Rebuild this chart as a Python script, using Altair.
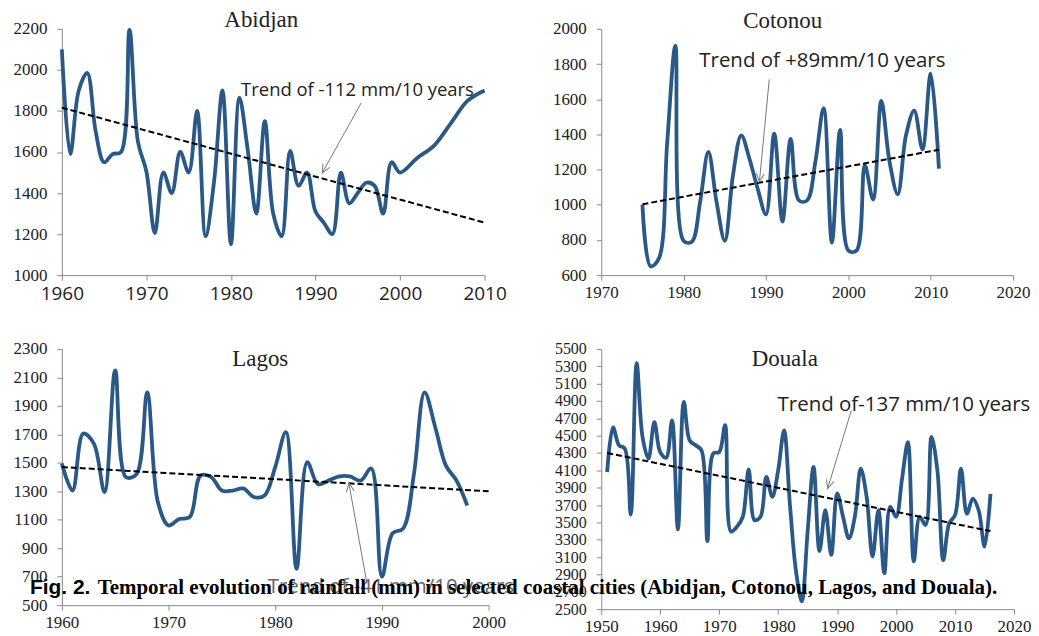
import altair as alt
import pandas as pd

# ---------------- data ----------------
abidjan_years = list(range(1960, 2001)) + [2002, 2004, 2006, 2008, 2010]
abidjan_rain = [2100, 1590, 1900, 1985, 1700, 1550, 1590, 1600, 2195, 1650,
                1505, 1205, 1500, 1400, 1600, 1500, 1800, 1190, 1455, 1900,
                1150, 1865, 1605, 1300, 1750, 1300, 1190, 1605, 1435, 1500,
                1310, 1255, 1200, 1500, 1350, 1400, 1450, 1435, 1300, 1550,
                1500, 1570, 1630, 1740, 1850, 1900]
abidjan_trend_years = [1960, 2010]
abidjan_trend = [1816, 1256]

cotonou_years = list(range(1975, 2012))
cotonou_rain = [1000, 650, 695, 1350, 1905, 795, 790, 1015, 1300, 1015,
                795, 1170, 1395, 1260, 1090, 945, 1405, 905, 1375, 1025,
                1025, 1245, 1550, 785, 1425, 740, 740, 1225, 1030, 1590,
                1245, 1060, 1395, 1535, 1315, 1745, 1205]
cotonou_trend_years = [1975, 2011]
cotonou_trend = [1003, 1313]

lagos_years = list(range(1960, 1999))
lagos_rain = [1495, 1305, 1705, 1635, 1295, 2150, 1400, 1420, 1995, 1225,
              1060, 1105, 1120, 1410, 1400, 1305, 1305, 1320, 1260, 1270,
              1470, 1715, 755, 1505, 1350, 1375, 1405, 1405, 1375, 1460,
              700, 1005, 1040, 1420, 1995, 1750, 1480, 1375, 1200]
lagos_trend_years = [1960, 2000]
lagos_trend = [1470, 1300]

douala_years = list(range(1951, 2017))
douala_rain = [4080, 4595, 4390, 4350, 3590, 5335, 4485, 4235, 4655, 4310,
               4245, 4675, 3420, 4890, 4445, 4390, 4330, 3285, 4295, 4310,
               4620, 3395, 3450, 3565, 4110, 3525, 3565, 4025, 3795, 4100,
               4560, 3700, 2950, 2590, 3400, 4140, 3170, 3640, 3125, 3835,
               3565, 3315, 3565, 4120, 3795, 3105, 3640, 2915, 3680, 3565,
               4000, 4425, 3050, 3565, 3470, 4485, 4100, 3065, 3490, 3585,
               4120, 3600, 3775, 3640, 3220, 3830]
douala_trend_years = [1951, 2016]
douala_trend = [4300, 3400]

titles = ["Abidjan", "Cotonou", "Lagos", "Douala"]
annotations = ["Trend of -112 mm/10 years", "Trend of +89mm/10 years",
               "Trend of -41 mm/10 years", "Trend of-137 mm/10 years"]
caption_head = "Fig. 2."
caption_body = ("Temporal evolution of rainfall (mm) in selected coastal cities "
                "(Abidjan, Cotonou, Lagos, and Douala).")

LINE = "#2A5887"
AXC = "#8a8a8a"
SERIF = "Liberation Serif"
SANS = "Open Sans"


def panel(years, rain, tyears, tvals, xdom, ydom, xstep, ystep, w, h,
          xfont, xsize, yfont, ysize, title, tpos, ann, apos, asize, acolor,
          arrow, angle, extra=()):
    X = alt.X("x:Q", title=None,
              scale=alt.Scale(domain=xdom, nice=False, zero=False),
              axis=alt.Axis(values=list(range(xdom[0], xdom[1] + 1, xstep)),
                            format="d", labelFont=xfont, labelFontSize=xsize,
                            labelFlush=False, labelOverlap=False,
                            labelPadding=4, labelColor="#222",
                            domainColor=AXC, tickColor=AXC, tickSize=5,
                            grid=False))
    Y = alt.Y("y:Q", title=None,
              scale=alt.Scale(domain=ydom, nice=False, zero=False),
              axis=alt.Axis(values=list(range(ydom[0], ydom[1] + 1, ystep)),
                            format="d", labelFont=yfont, labelFontSize=ysize,
                            labelFlush=False, labelOverlap=False,
                            labelPadding=10, labelColor="#222",
                            domainColor=AXC, tickColor=AXC, tickSize=5,
                            grid=False))
    d = pd.DataFrame({"x": years, "y": rain})
    t = pd.DataFrame({"x": tyears, "y": tvals})
    line = alt.Chart(d).mark_line(interpolate="catmull-rom", color=LINE,
                                  strokeWidth=3.8).encode(x=X, y=Y)
    trend = alt.Chart(t).mark_line(color="black", strokeWidth=2,
                                   strokeDash=[6, 3]).encode(x=X, y=Y)
    ad = pd.DataFrame({"x": [arrow[0]], "y": [arrow[1]],
                       "x2": [arrow[2]], "y2": [arrow[3]]})
    rule = alt.Chart(ad).mark_rule(color="#777", strokeWidth=1).encode(
        x=X, y=Y, x2="x2:Q", y2="y2:Q")
    hd = pd.DataFrame({"x": [arrow[2]], "y": [arrow[3]]})
    head = alt.Chart(hd).mark_point(
        shape="M -0.55 1.2 L 0 0 L 0.55 1.2", filled=False, color="#777",
        strokeWidth=1, size=200, angle=angle, opacity=1).encode(x=X, y=Y)
    td = pd.DataFrame({"x": [apos[0]], "y": [apos[1]], "t": [ann]})
    text = alt.Chart(td).mark_text(font=SANS, fontSize=asize, color=acolor,
                                   align="left", baseline="middle").encode(
        x=X, y=Y, text="t:N")
    ttl = alt.Chart(pd.DataFrame({"t": [title]})).mark_text(
        font=SERIF, fontSize=23, color="#222", align="center",
        baseline="middle").encode(x=alt.value(tpos[0]), y=alt.value(tpos[1]),
                                  text="t:N")
    return alt.layer(line, trend, rule, head, text, ttl, *extra).properties(
        width=w, height=h)


cap1 = alt.Chart(pd.DataFrame({"t": [caption_head]})).mark_text(
    font="Liberation Sans", fontWeight="bold", fontSize=21, color="black",
    align="left", baseline="alphabetic").encode(
    x=alt.value(30 - 603), y=alt.value(594 - 348), text="t:N")
cap2 = alt.Chart(pd.DataFrame({"t": [caption_body]})).mark_text(
    font=SERIF, fontWeight="bold", fontSize=21, color="black",
    align="left", baseline="alphabetic").encode(
    x=alt.value(98 - 603), y=alt.value(594 - 348), text="t:N")

abidjan = panel(abidjan_years, abidjan_rain, abidjan_trend_years, abidjan_trend,
                [1960, 2010], [1000, 2200], 10, 200, 424, 247,
                SANS, 19, SERIF, 17, titles[0], (200, -9),
                annotations[0], (1981.2, 1900), 18.5, "#222",
                (1995.4, 1839, 1990.8, 1498), 209)
cotonou = panel(cotonou_years, cotonou_rain, cotonou_trend_years, cotonou_trend,
                [1970, 2020], [600, 2000], 10, 200, 413, 247,
                SERIF, 17, SERIF, 17, titles[1], (182, -8),
                annotations[1], (1981.9, 1815), 20.5, "#222",
                (1990.4, 1713, 1989.2, 1130), 186)
lagos = panel(lagos_years, lagos_rain, lagos_trend_years, lagos_trend,
              [1960, 2000], [500, 2300], 10, 200, 428, 257,
              SERIF, 17, SERIF, 17, titles[2], (199, 10),
              annotations[2], (1979.3, 628), 20.5, "#666",
              (1988.6, 652, 1986.9, 1358), 350)
douala = panel(douala_years, douala_rain, douala_trend_years, douala_trend,
               [1950, 2020], [2500, 5500], 10, 200, 414, 261,
               SERIF, 17, SERIF, 16, titles[3], (184, 10),
               annotations[3], (1979.9, 4848), 20.5, "#222",
               (1992.4, 4791, 1988.4, 3891), 197, extra=(cap1, cap2))

chart = alt.concat(abidjan, cotonou, lagos, douala, columns=2,
                   spacing=alt.RowColnumber(row=74, column=113),
                   bounds="flush").properties(
    padding={"left": 5, "top": 0, "right": 0, "bottom": 0},
    background="white",
).configure_view(stroke=None)

chart.save("out.html", embed_options={"renderer": "svg", "actions": False})
